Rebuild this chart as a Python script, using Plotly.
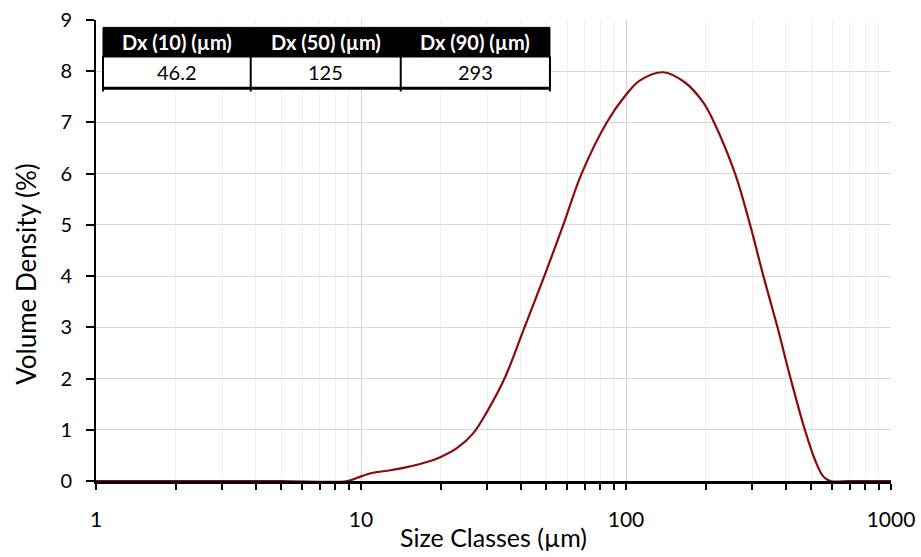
import plotly.graph_objects as go

# ---- data ----
size_um = [1, 2, 5, 8.9, 10, 11.1, 12.9, 14.9, 17.2, 20, 23, 26.5, 29.8, 35, 41.4, 49.5,
           57.8, 68, 84.6, 100, 113, 138, 167, 195, 215, 258, 294, 330, 373, 418, 473, 516, 555,
           590, 700, 1000]
volume_pct = [0, 0, 0, 0, 0.09, 0.16, 0.21, 0.27, 0.35, 0.47, 0.64, 0.93, 1.34, 2.03, 3.0, 4.04,
              4.98, 6.0, 7.0, 7.54, 7.82, 7.98, 7.78, 7.4, 7.0, 6.0, 5.0, 4.0, 3.0, 2.0, 1.0, 0.42, 0.09,
              0, 0, 0]

x_tickvals = [1, 10, 100, 1000]
x_ticktext = ["1", "10", "100", "1000"]

table_headers = ["Dx (10) (µm)", "Dx (50) (µm)", "Dx (90) (µm)"]
table_values = ["46.2", "125", "293"]

FONT = "Lato"

fig = go.Figure()
fig.add_trace(go.Scatter(
    x=size_um, y=volume_pct, mode="lines",
    line=dict(color="#8b0a0a", width=2.2, shape="spline", smoothing=1.0),
    cliponaxis=False, showlegend=False, hoverinfo="x+y"))

fig.update_layout(
    width=921, height=557,
    margin=dict(l=96, r=30, t=20, b=76),
    paper_bgcolor="white", plot_bgcolor="white",
    font=dict(family=FONT, color="black", size=20),
    xaxis=dict(
        type="log", range=[0, 3],
        tickvals=x_tickvals, ticktext=x_ticktext,
        ticks="outside", ticklen=6, tickwidth=2, tickcolor="black",
        ticklabelstandoff=12,
        showline=True, linecolor="black", linewidth=3,
        showgrid=True, gridcolor="#d4d4d4", gridwidth=1,
        minor=dict(ticks="outside", ticklen=6, tickwidth=2, tickcolor="black",
                   showgrid=True, gridcolor="#efefef", dtick="D1"),
        tickfont=dict(size=21), layer="below traces",
        title=dict(text="Size Classes (µm)", font=dict(size=25), standoff=0),
        zeroline=False, automargin=False,
    ),
    yaxis=dict(
        range=[0, 9], dtick=1,
        ticks="outside", ticklen=8, tickwidth=2, tickcolor="black",
        ticklabelstandoff=10,
        showline=True, linecolor="black", linewidth=2,
        showgrid=True, gridcolor="#d9d9d9", gridwidth=1,
        tickfont=dict(size=20), layer="below traces",
        zeroline=False, automargin=False,
    ),
)

# y-axis title (placed slightly below the plot centre, as in the reference)
fig.add_annotation(x=-0.089, y=0.45, xref="paper", yref="paper",
                   xanchor="center", yanchor="middle", textangle=-90,
                   text="Volume Density (%)", showarrow=False,
                   font=dict(family=FONT, size=26, color="black"))

# ---- statistics table (overlay, paper coordinates) ----
col_edges = [0.0088, 0.1946, 0.3833, 0.571]
y_top, y_mid, y_bot = 0.984, 0.9205, 0.852

fig.add_shape(type="rect", xref="paper", yref="paper",
              x0=col_edges[0], x1=col_edges[-1], y0=y_mid, y1=y_top,
              fillcolor="black", line=dict(color="black", width=1), layer="above")
fig.add_shape(type="rect", xref="paper", yref="paper",
              x0=col_edges[0], x1=col_edges[-1], y0=y_bot, y1=y_mid,
              fillcolor="white", line=dict(color="black", width=1.5), layer="above")
fig.add_shape(type="line", xref="paper", yref="paper",
              x0=col_edges[0], x1=col_edges[-1], y0=y_bot, y1=y_bot,
              line=dict(color="black", width=3), layer="above")
for xe in col_edges:
    fig.add_shape(type="line", xref="paper", yref="paper",
                  x0=xe, x1=xe, y0=y_bot - 0.007, y1=y_mid,
                  line=dict(color="black", width=2), layer="above")

for i, (h, v) in enumerate(zip(table_headers, table_values)):
    xc = (col_edges[i] + col_edges[i + 1]) / 2
    fig.add_annotation(x=xc, y=(y_mid + y_top) / 2, xref="paper", yref="paper",
                       xanchor="center", yanchor="middle",
                       text=f"<b>{h}</b>", showarrow=False,
                       font=dict(family=FONT, size=20, color="white"))
    fig.add_annotation(x=xc, y=(y_bot + y_mid) / 2, xref="paper", yref="paper",
                       xanchor="center", yanchor="middle",
                       text=v, showarrow=False,
                       font=dict(family=FONT, size=20, color="black"))

fig.write_html("out.html", config={"displayModeBar": False},
               post_script="document.body.style.margin='0';document.body.style.overflow='hidden';")
